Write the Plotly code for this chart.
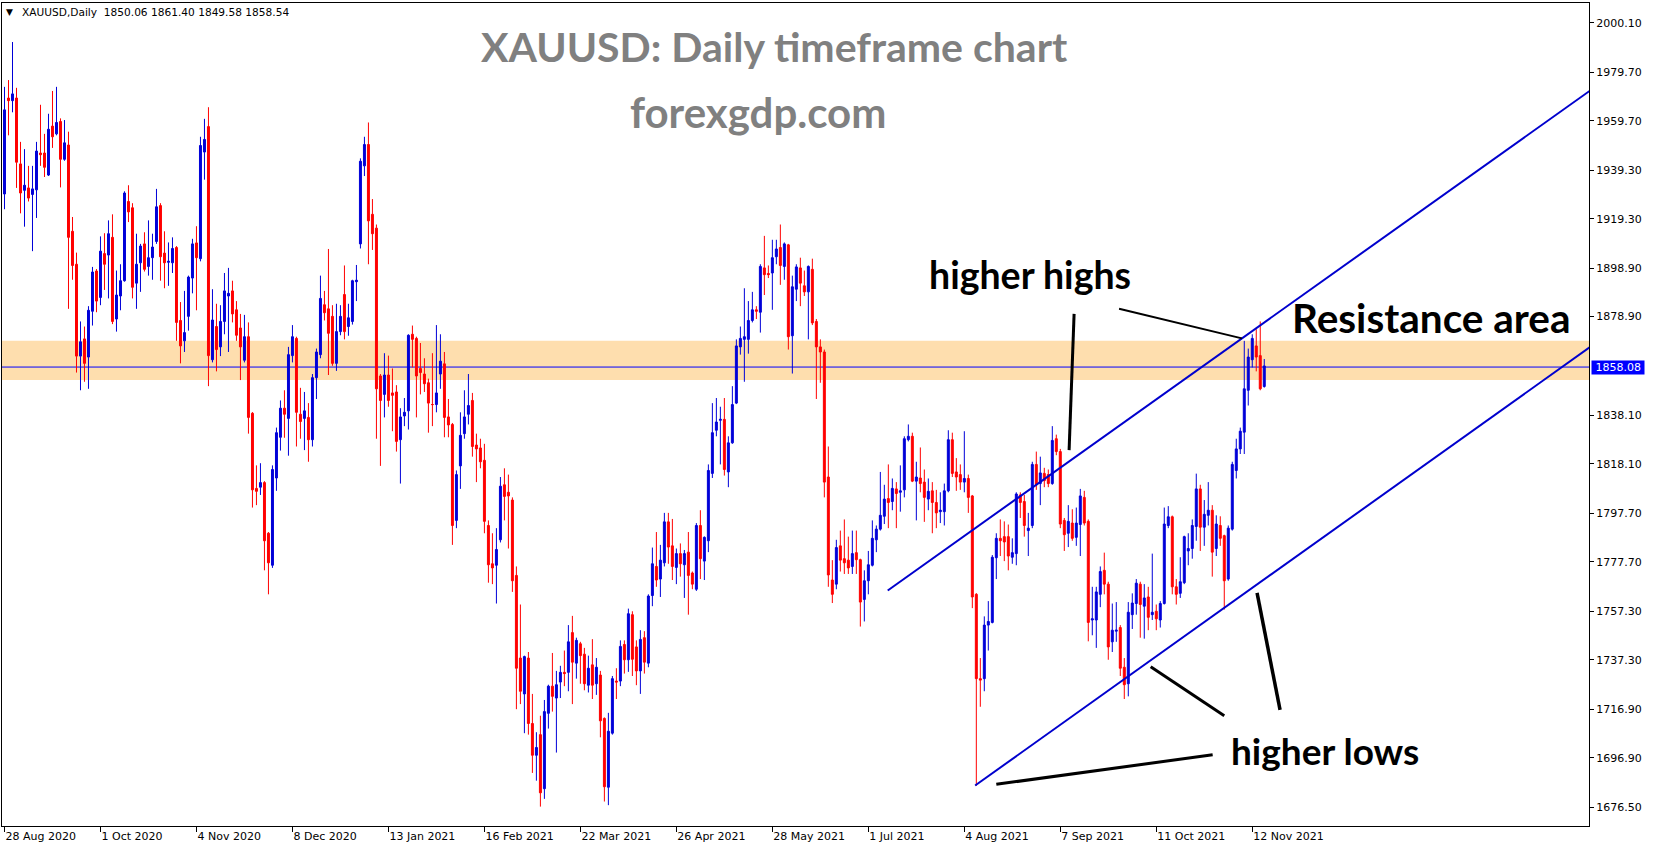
import plotly.graph_objects as go

# ---------------- data ----------------
opens = [
    1929.5, 1969.1, 1968.0, 1969.1, 1941.9, 1931.0, 1932.0, 1929.3, 1931.2, 1946.4,
    1946.4, 1937.3, 1957.5, 1954.3, 1959.4, 1943.8, 1949.7, 1914.1, 1900.5, 1862.6,
    1869.7, 1862.2, 1881.1, 1897.7, 1886.8, 1904.9, 1904.3, 1911.6, 1877.9, 1887.4,
    1893.7, 1926.4, 1923.8, 1892.7, 1901.1, 1908.9, 1899.6, 1903.2, 1909.9, 1924.7,
    1905.1, 1901.3, 1901.1, 1907.4, 1877.3, 1868.9, 1879.0, 1894.8, 1909.3, 1902.8,
    1946.8, 1957.3, 1861.1, 1874.8, 1866.4, 1876.9, 1887.4, 1889.5, 1881.7, 1874.2,
    1860.9, 1870.6, 1839.0, 1808.0, 1808.5, 1810.4, 1789.5, 1776.3, 1812.3, 1829.1,
    1841.1, 1836.9, 1862.8, 1869.9, 1838.6, 1836.9, 1837.3, 1828.1, 1853.7, 1863.2,
    1883.8, 1882.1, 1879.0, 1859.6, 1872.7, 1888.0, 1874.8, 1876.9, 1893.3, 1908.9,
    1941.1, 1949.9, 1921.1, 1915.4, 1854.4, 1846.8, 1854.8, 1847.4, 1847.8, 1828.1,
    1837.9, 1840.0, 1871.6, 1869.9, 1857.5, 1855.2, 1851.6, 1842.6, 1842.6, 1855.2,
    1859.4, 1837.5, 1834.4, 1794.8, 1817.3, 1830.6, 1838.6, 1844.3, 1825.9, 1824.7,
    1819.6, 1792.7, 1776.9, 1776.3, 1786.8, 1809.5, 1806.4, 1803.2, 1772.1, 1738.0,
    1723.2, 1738.0, 1711.0, 1697.9, 1706.4, 1684.1, 1715.2, 1726.4, 1721.5, 1728.1,
    1732.1, 1732.1, 1748.5, 1735.9, 1743.9, 1739.6, 1726.8, 1735.2, 1727.4, 1731.0,
    1713.1, 1684.7, 1707.0, 1728.5, 1728.5, 1743.6, 1737.3, 1755.9, 1742.6, 1732.7,
    1746.4, 1735.9, 1763.8, 1775.8, 1770.6, 1777.3, 1794.2, 1784.3, 1775.4, 1781.1,
    1776.5, 1781.7, 1773.1, 1766.4, 1792.7, 1778.0, 1786.4, 1814.2, 1832.0, 1836.1,
    1836.5, 1814.8, 1826.8, 1843.2, 1866.4, 1869.5, 1869.5, 1877.3, 1881.7, 1880.7,
    1899.0, 1896.7, 1896.9, 1903.6, 1907.4, 1899.6, 1908.5, 1871.0, 1890.2, 1899.0,
    1891.6, 1889.1, 1898.4, 1876.9, 1866.4, 1864.3, 1812.7, 1770.2, 1768.5, 1784.3,
    1779.0, 1778.4, 1775.8, 1781.5, 1778.6, 1762.2, 1769.9, 1776.3, 1786.8, 1791.2,
    1796.5, 1803.8, 1802.6, 1807.8, 1806.4, 1807.4, 1828.1, 1829.5, 1811.0, 1812.3,
    1810.6, 1803.6, 1807.0, 1802.2, 1798.4, 1798.4, 1807.0, 1828.1, 1814.8, 1813.7,
    1810.6, 1812.1, 1804.9, 1764.3, 1729.5, 1729.5, 1751.6, 1752.7, 1779.4, 1787.4,
    1788.1, 1788.1, 1779.6, 1781.1, 1805.3, 1802.6, 1790.6, 1792.7, 1817.9, 1810.0,
    1814.2, 1813.7, 1810.0, 1828.5, 1823.2, 1794.8, 1789.5, 1793.7, 1787.8, 1793.1,
    1804.3, 1794.4, 1753.7, 1753.7, 1764.3, 1774.2, 1768.5, 1744.7, 1749.1, 1750.6,
    1734.2, 1727.4, 1755.9, 1760.5, 1768.5, 1759.4, 1763.2, 1755.9, 1757.3, 1753.7,
    1760.5, 1792.7, 1796.3, 1767.4, 1764.7, 1769.1, 1782.2, 1783.2, 1792.3, 1807.8,
    1792.0, 1796.9, 1799.0, 1783.2, 1792.7, 1788.5, 1770.6, 1791.2, 1815.4, 1824.3,
    1831.2, 1848.5, 1861.1, 1866.8, 1862.8, 1850.06,
]
highs = [
    1973.7, 1976.5, 1992.2, 1973.3, 1951.0, 1948.0, 1941.1, 1941.1, 1951.0, 1966.3,
    1954.3, 1962.6, 1972.0, 1973.7, 1960.7, 1960.0, 1955.2, 1920.0, 1905.3, 1876.9,
    1874.8, 1883.2, 1899.4, 1898.5, 1912.0, 1913.3, 1918.6, 1921.1, 1897.9, 1900.5,
    1930.6, 1933.1, 1925.7, 1913.1, 1908.9, 1913.7, 1918.6, 1913.1, 1931.6, 1925.7,
    1914.1, 1909.5, 1911.6, 1908.0, 1884.9, 1889.5, 1895.8, 1911.0, 1916.2, 1953.1,
    1960.5, 1965.3, 1890.2, 1884.2, 1883.6, 1896.9, 1899.0, 1893.7, 1885.3, 1880.0,
    1879.6, 1876.5, 1839.5, 1817.5, 1818.4, 1811.0, 1790.0, 1817.5, 1833.1, 1844.3,
    1848.5, 1866.4, 1875.4, 1870.6, 1849.5, 1847.8, 1843.2, 1855.2, 1865.7, 1895.8,
    1889.5, 1906.8, 1883.6, 1884.2, 1883.6, 1900.0, 1884.2, 1894.1, 1900.2, 1944.2,
    1953.1, 1959.0, 1927.4, 1916.9, 1855.2, 1863.8, 1862.8, 1857.5, 1850.6, 1841.1,
    1845.3, 1871.6, 1875.2, 1870.6, 1868.0, 1861.7, 1853.3, 1863.8, 1875.4, 1871.6,
    1864.3, 1844.9, 1835.0, 1815.4, 1839.4, 1848.5, 1855.2, 1847.4, 1830.6, 1828.5,
    1826.4, 1794.8, 1789.5, 1791.6, 1812.7, 1816.3, 1813.7, 1804.3, 1775.8, 1760.1,
    1739.0, 1740.5, 1723.2, 1707.4, 1714.2, 1720.7, 1727.0, 1740.1, 1732.7, 1734.8,
    1741.1, 1751.6, 1755.4, 1746.4, 1744.7, 1742.2, 1739.0, 1745.8, 1738.0, 1732.7,
    1713.5, 1715.4, 1730.6, 1733.8, 1745.3, 1745.3, 1758.4, 1757.3, 1745.3, 1749.5,
    1749.1, 1764.3, 1783.6, 1790.0, 1784.7, 1797.9, 1797.9, 1795.4, 1783.2, 1785.3,
    1782.6, 1790.0, 1773.7, 1793.7, 1799.0, 1788.2, 1817.9, 1843.2, 1845.3, 1841.7,
    1845.3, 1829.5, 1850.2, 1869.5, 1874.8, 1890.6, 1885.3, 1889.1, 1883.2, 1900.5,
    1912.2, 1900.0, 1910.6, 1910.6, 1916.9, 1909.5, 1908.9, 1895.8, 1900.5, 1903.2,
    1897.9, 1900.0, 1902.8, 1877.9, 1869.5, 1865.3, 1825.3, 1778.4, 1786.8, 1790.6,
    1795.2, 1788.1, 1790.6, 1790.6, 1779.0, 1774.2, 1782.2, 1794.8, 1792.7, 1814.8,
    1809.5, 1817.9, 1812.1, 1810.6, 1817.5, 1829.5, 1834.4, 1831.0, 1819.0, 1824.9,
    1815.8, 1812.1, 1810.6, 1807.4, 1806.4, 1810.0, 1832.0, 1831.0, 1820.5, 1817.9,
    1831.6, 1813.7, 1805.3, 1764.8, 1738.0, 1755.2, 1761.5, 1780.5, 1789.5, 1795.2,
    1794.4, 1793.1, 1787.4, 1806.4, 1806.4, 1805.3, 1797.9, 1819.0, 1823.2, 1821.1,
    1816.5, 1815.8, 1833.7, 1830.2, 1824.3, 1795.8, 1801.1, 1799.4, 1800.1, 1807.8,
    1807.0, 1795.2, 1767.4, 1767.4, 1775.8, 1781.5, 1769.5, 1760.5, 1761.1, 1751.6,
    1738.0, 1761.1, 1764.7, 1770.6, 1769.5, 1768.5, 1767.4, 1781.1, 1760.1, 1761.5,
    1800.1, 1800.7, 1796.8, 1770.6, 1779.6, 1788.5, 1789.5, 1795.2, 1814.1, 1809.5,
    1803.2, 1810.6, 1801.1, 1796.9, 1796.5, 1788.9, 1792.7, 1819.0, 1828.5, 1833.1,
    1868.9, 1865.7, 1871.6, 1873.7, 1876.9, 1861.40,
]
lows = [
    1923.2, 1953.7, 1963.2, 1932.0, 1921.5, 1916.0, 1926.4, 1905.9, 1919.6, 1941.1,
    1936.5, 1936.9, 1948.5, 1953.7, 1932.2, 1943.2, 1882.1, 1894.1, 1855.8, 1848.5,
    1852.0, 1849.1, 1875.2, 1880.7, 1883.6, 1889.9, 1886.4, 1875.8, 1872.7, 1881.5,
    1893.3, 1917.9, 1886.4, 1882.1, 1889.1, 1897.5, 1895.8, 1894.1, 1908.9, 1893.7,
    1890.6, 1891.6, 1896.9, 1868.9, 1859.6, 1864.3, 1873.1, 1888.5, 1881.5, 1901.7,
    1935.4, 1850.2, 1860.0, 1856.3, 1862.6, 1871.6, 1864.3, 1876.5, 1868.9, 1852.7,
    1860.0, 1830.6, 1800.1, 1801.1, 1805.3, 1774.2, 1764.3, 1775.2, 1807.0, 1823.6,
    1828.9, 1821.5, 1860.0, 1825.3, 1828.5, 1823.8, 1819.0, 1825.3, 1844.9, 1861.7,
    1877.3, 1854.8, 1858.6, 1856.5, 1871.2, 1869.5, 1871.0, 1875.6, 1885.3, 1907.0,
    1936.9, 1900.5, 1906.4, 1828.5, 1817.3, 1837.3, 1841.7, 1831.6, 1823.2, 1810.0,
    1833.7, 1832.3, 1857.9, 1837.3, 1846.8, 1847.8, 1831.0, 1833.7, 1839.4, 1849.1,
    1829.1, 1829.1, 1784.7, 1791.6, 1807.8, 1828.5, 1834.4, 1821.1, 1810.6, 1816.3,
    1789.5, 1769.1, 1768.5, 1760.5, 1785.7, 1794.8, 1783.2, 1765.3, 1716.9, 1719.0,
    1707.0, 1706.4, 1690.6, 1687.4, 1676.7, 1679.9, 1708.9, 1715.9, 1699.0, 1721.5,
    1726.4, 1724.3, 1719.0, 1729.5, 1727.4, 1724.7, 1723.8, 1721.1, 1722.8, 1705.3,
    1678.8, 1677.3, 1706.4, 1721.1, 1726.4, 1731.6, 1732.3, 1730.6, 1726.8, 1723.2,
    1731.6, 1734.2, 1759.4, 1767.4, 1763.2, 1775.8, 1776.9, 1770.2, 1768.5, 1771.6,
    1762.8, 1755.9, 1766.4, 1765.7, 1770.6, 1770.2, 1781.7, 1812.3, 1829.5, 1817.9,
    1813.3, 1808.5, 1826.4, 1842.8, 1863.2, 1852.0, 1863.6, 1876.5, 1877.9, 1872.3,
    1887.8, 1894.8, 1881.7, 1900.5, 1892.0, 1894.1, 1865.3, 1855.4, 1885.3, 1883.2,
    1887.4, 1869.5, 1875.4, 1844.9, 1851.6, 1804.3, 1767.4, 1760.7, 1766.4, 1773.7,
    1772.7, 1772.7, 1772.7, 1772.7, 1751.0, 1753.1, 1764.3, 1775.8, 1781.7, 1790.6,
    1793.3, 1791.6, 1799.0, 1791.6, 1798.4, 1804.3, 1827.4, 1810.6, 1794.8, 1806.4,
    1794.2, 1799.0, 1789.5, 1791.6, 1793.7, 1792.7, 1806.4, 1812.7, 1807.0, 1807.4,
    1806.4, 1797.9, 1758.6, 1685.3, 1717.9, 1724.3, 1741.1, 1752.3, 1770.6, 1780.1,
    1778.0, 1774.2, 1776.9, 1776.3, 1795.8, 1788.1, 1780.1, 1791.6, 1807.4, 1801.1,
    1808.5, 1808.5, 1809.5, 1821.7, 1791.6, 1782.2, 1783.8, 1786.4, 1784.3, 1780.1,
    1792.7, 1744.9, 1747.4, 1742.2, 1759.0, 1764.3, 1737.3, 1740.5, 1744.7, 1730.6,
    1721.1, 1722.2, 1750.0, 1755.9, 1746.4, 1746.0, 1749.5, 1753.7, 1749.5, 1750.6,
    1760.1, 1791.6, 1764.3, 1760.1, 1762.8, 1768.5, 1776.3, 1779.0, 1786.4, 1782.2,
    1784.3, 1792.7, 1771.6, 1780.1, 1784.3, 1758.0, 1769.9, 1790.6, 1812.1, 1822.2,
    1822.2, 1842.2, 1857.9, 1856.3, 1848.5, 1849.58,
]
closes = [
    1964.2, 1968.0, 1970.8, 1942.6, 1929.9, 1933.1, 1927.8, 1931.6, 1947.2, 1945.7,
    1940.5, 1956.2, 1953.1, 1959.0, 1943.8, 1950.6, 1911.6, 1900.0, 1862.6, 1868.5,
    1859.6, 1881.5, 1897.3, 1885.3, 1905.9, 1900.5, 1913.1, 1876.9, 1887.8, 1893.7,
    1929.9, 1922.1, 1891.0, 1900.5, 1908.0, 1898.4, 1903.2, 1907.6, 1924.2, 1903.6,
    1901.1, 1901.7, 1907.0, 1876.5, 1866.8, 1872.3, 1895.2, 1908.9, 1903.2, 1949.5,
    1952.0, 1862.8, 1877.5, 1865.3, 1876.9, 1889.5, 1888.5, 1880.0, 1871.2, 1866.4,
    1870.6, 1837.3, 1807.4, 1806.8, 1810.4, 1786.4, 1777.3, 1815.8, 1831.0, 1841.1,
    1838.6, 1863.2, 1870.6, 1839.4, 1835.6, 1840.0, 1828.1, 1853.7, 1864.3, 1886.4,
    1880.5, 1872.0, 1859.6, 1872.7, 1879.0, 1872.7, 1878.4, 1893.7, 1893.9, 1943.0,
    1949.9, 1918.4, 1913.1, 1849.1, 1844.3, 1854.8, 1844.3, 1846.4, 1827.4, 1837.5,
    1839.4, 1871.2, 1869.5, 1854.4, 1855.8, 1851.2, 1843.2, 1842.6, 1847.4, 1860.5,
    1837.3, 1834.2, 1792.7, 1813.7, 1829.9, 1837.5, 1842.2, 1825.3, 1824.3, 1819.0,
    1794.4, 1776.5, 1775.2, 1782.8, 1808.9, 1804.7, 1804.9, 1769.9, 1733.8, 1724.3,
    1738.6, 1711.0, 1697.9, 1701.1, 1682.4, 1715.9, 1726.4, 1722.2, 1727.0, 1732.1,
    1731.6, 1744.7, 1736.3, 1745.3, 1739.0, 1727.4, 1733.8, 1726.8, 1734.2, 1712.1,
    1684.9, 1707.8, 1729.5, 1728.1, 1742.8, 1737.3, 1756.3, 1737.5, 1732.7, 1745.7,
    1736.3, 1763.6, 1776.9, 1770.2, 1778.4, 1794.2, 1783.8, 1775.8, 1781.1, 1776.9,
    1781.1, 1772.1, 1768.5, 1792.7, 1779.0, 1787.8, 1815.4, 1831.0, 1835.4, 1836.5,
    1815.8, 1826.8, 1842.6, 1866.8, 1869.9, 1870.6, 1877.3, 1881.7, 1881.1, 1899.6,
    1896.2, 1896.2, 1903.2, 1906.8, 1900.0, 1908.9, 1870.6, 1891.2, 1899.4, 1892.7,
    1889.1, 1899.6, 1876.3, 1866.4, 1864.3, 1810.6, 1772.3, 1764.3, 1783.6, 1778.4,
    1777.3, 1775.2, 1781.1, 1778.6, 1761.1, 1769.9, 1776.5, 1787.4, 1791.2, 1796.9,
    1803.6, 1802.2, 1808.0, 1805.9, 1807.0, 1828.5, 1829.5, 1811.0, 1812.7, 1810.0,
    1804.3, 1806.8, 1802.2, 1797.9, 1799.0, 1807.0, 1828.1, 1814.2, 1812.7, 1810.6,
    1812.1, 1804.3, 1763.2, 1729.5, 1728.9, 1751.6, 1753.1, 1779.6, 1787.4, 1786.4,
    1785.9, 1780.1, 1781.5, 1805.7, 1802.2, 1792.7, 1791.6, 1817.9, 1809.5, 1814.4,
    1811.2, 1810.0, 1827.8, 1823.2, 1793.3, 1788.9, 1794.4, 1787.4, 1793.7, 1804.9,
    1793.7, 1752.7, 1754.2, 1765.3, 1773.7, 1768.5, 1742.6, 1749.5, 1749.5, 1733.8,
    1727.0, 1756.9, 1760.7, 1768.9, 1760.1, 1762.8, 1754.8, 1756.9, 1754.2, 1760.5,
    1793.3, 1796.3, 1767.4, 1764.3, 1769.5, 1788.1, 1783.2, 1792.7, 1807.8, 1792.0,
    1797.3, 1799.0, 1781.7, 1793.3, 1787.4, 1769.9, 1791.6, 1817.9, 1824.3, 1831.6,
    1849.1, 1862.2, 1869.9, 1862.2, 1849.1, 1858.54,
]
bars = list(range(len(opens)))

date_tick_bars = [0, 24, 48, 72, 96, 120, 144, 168, 192, 216, 240, 264, 288, 312]
date_tick_labels = ["28 Aug 2020", "1 Oct 2020", "4 Nov 2020", "8 Dec 2020",
                    "13 Jan 2021", "16 Feb 2021", "22 Mar 2021", "26 Apr 2021",
                    "28 May 2021", "1 Jul 2021", "4 Aug 2021", "7 Sep 2021",
                    "11 Oct 2021", "12 Nov 2021"]
price_ticks = [2000.10, 1979.70, 1959.70, 1939.30, 1919.30, 1898.90, 1878.90,
               1838.10, 1818.10, 1797.70, 1777.70, 1757.30, 1737.30, 1716.90,
               1696.90, 1676.50]
price_tick_labels = ["%.2f" % v for v in price_ticks]

header_text = "XAUUSD,Daily  1850.06 1861.40 1849.58 1858.54"
bid_price = 1858.08
resistance_low = 1852.7
resistance_high = 1868.9

# channel lines (bar index, price)
upper_channel_x = [220.85, 400.0]
upper_channel_y = [1765.9, 1976.3]
lower_channel_x = [242.7, 400.0]
lower_channel_y = [1685.4, 1870.5]

# black pointer lines (bar index, price)
pointer_lines = [
    ([267.45, 266.2], [1880.0, 1823.8], 3),
    ([278.7, 309.4], [1882.1, 1869.9], 2),
    ([248.0, 302.1], [1685.9, 1698.1], 3),
    ([286.6, 305.0], [1734.4, 1714.2], 3),
    ([313.2, 318.95], [1764.9, 1716.6], 3.5),
]

BULL = "#0000D8"
BEAR = "#FF0000"
CHANNEL = "#0000CD"
BAND = "#FEDEAE"
GRAY = "#808080"

fig = go.Figure()

fig.add_trace(go.Candlestick(
    x=bars, open=opens, high=highs, low=lows, close=closes,
    increasing=dict(line=dict(color=BULL, width=1), fillcolor=BULL),
    decreasing=dict(line=dict(color=BEAR, width=1), fillcolor=BEAR),
    whiskerwidth=0, showlegend=False,
))

fig.add_trace(go.Scatter(x=upper_channel_x, y=upper_channel_y, mode="lines",
                         line=dict(color=CHANNEL, width=2), showlegend=False,
                         hoverinfo="skip"))
fig.add_trace(go.Scatter(x=lower_channel_x, y=lower_channel_y, mode="lines",
                         line=dict(color=CHANNEL, width=2), showlegend=False,
                         hoverinfo="skip"))
for lx, ly, lw in pointer_lines:
    fig.add_trace(go.Scatter(x=lx, y=ly, mode="lines",
                             line=dict(color="#000000", width=lw),
                             showlegend=False, hoverinfo="skip"))

fig.add_shape(type="rect", xref="paper", x0=0, x1=1, yref="y",
              y0=resistance_low, y1=resistance_high,
              fillcolor=BAND, line=dict(width=0), layer="below")
fig.add_shape(type="line", xref="paper", x0=0, x1=1, yref="y",
              y0=bid_price, y1=bid_price,
              line=dict(color="#0000FF", width=1), layer="below")

big = dict(family="Lato", weight="bold")
annotations = [
    dict(x=192.45, y=1990.5, text="XAUUSD: Daily timeframe chart",
         font=dict(size=41, color=GRAY, **big)),
    dict(x=188.45, y=1963.3, text="forexgdp.com",
         font=dict(size=42, color=GRAY, **big)),
    dict(x=256.45, y=1896.2, text="higher highs",
         font=dict(size=37.5, color="#000000", **big)),
    dict(x=356.8, y=1878.5, text="Resistance area",
         font=dict(size=40.5, color="#000000", **big)),
    dict(x=330.3, y=1699.9, text="higher lows",
         font=dict(size=37, color="#000000", **big)),
]
for a in annotations:
    fig.add_annotation(xref="x", yref="y", showarrow=False,
                       xanchor="center", yanchor="middle", **a)

fig.add_annotation(xref="paper", yref="paper", x=0.0012, y=0.9895,
                   xanchor="left", yanchor="middle", showarrow=False,
                   text="\u25BC", font=dict(family="DejaVu Sans", size=9, color="#000000"))
fig.add_annotation(xref="paper", yref="paper", x=0.0113, y=0.9885,
                   xanchor="left", yanchor="middle", showarrow=False,
                   text=header_text,
                   font=dict(family="DejaVu Sans", size=10.6, color="#000000"))
fig.add_annotation(xref="paper", yref="y", x=1, y=bid_price, xshift=2,
                   xanchor="left", yanchor="middle", showarrow=False,
                   text=" %.2f " % bid_price, bgcolor="#0000FF", borderpad=0,
                   font=dict(family="DejaVu Sans", size=11, color="#FFFFFF"))

fig.update_layout(
    width=1653, height=850,
    margin=dict(l=2, r=64, t=3, b=24),
    paper_bgcolor="#FFFFFF", plot_bgcolor="#FFFFFF",
    boxgap=0.3,
    showlegend=False,
    xaxis=dict(
        range=[-0.625, 396.2], rangeslider=dict(visible=False),
        showgrid=False, zeroline=False,
        tickmode="array", tickvals=date_tick_bars, ticktext=date_tick_labels,
        ticks="outside", ticklen=5, tickcolor="#000000",
        ticklabelposition="outside right",
        tickfont=dict(family="DejaVu Sans", size=11, color="#000000"),
        showline=True, linecolor="#000000", linewidth=1, mirror=True,
    ),
    yaxis=dict(
        side="right", range=[1668.7, 2008.3],
        showgrid=False, zeroline=False,
        tickmode="array", tickvals=price_ticks, ticktext=price_tick_labels,
        ticks="outside", ticklen=4, tickcolor="#000000",
        tickfont=dict(family="DejaVu Sans", size=11, color="#000000"),
        showline=True, linecolor="#000000", linewidth=1, mirror=True,
    ),
)

fig.write_html("out.html", config={"displayModeBar": False},
               post_script="document.body.style.margin='0';document.body.style.overflow='hidden';")
